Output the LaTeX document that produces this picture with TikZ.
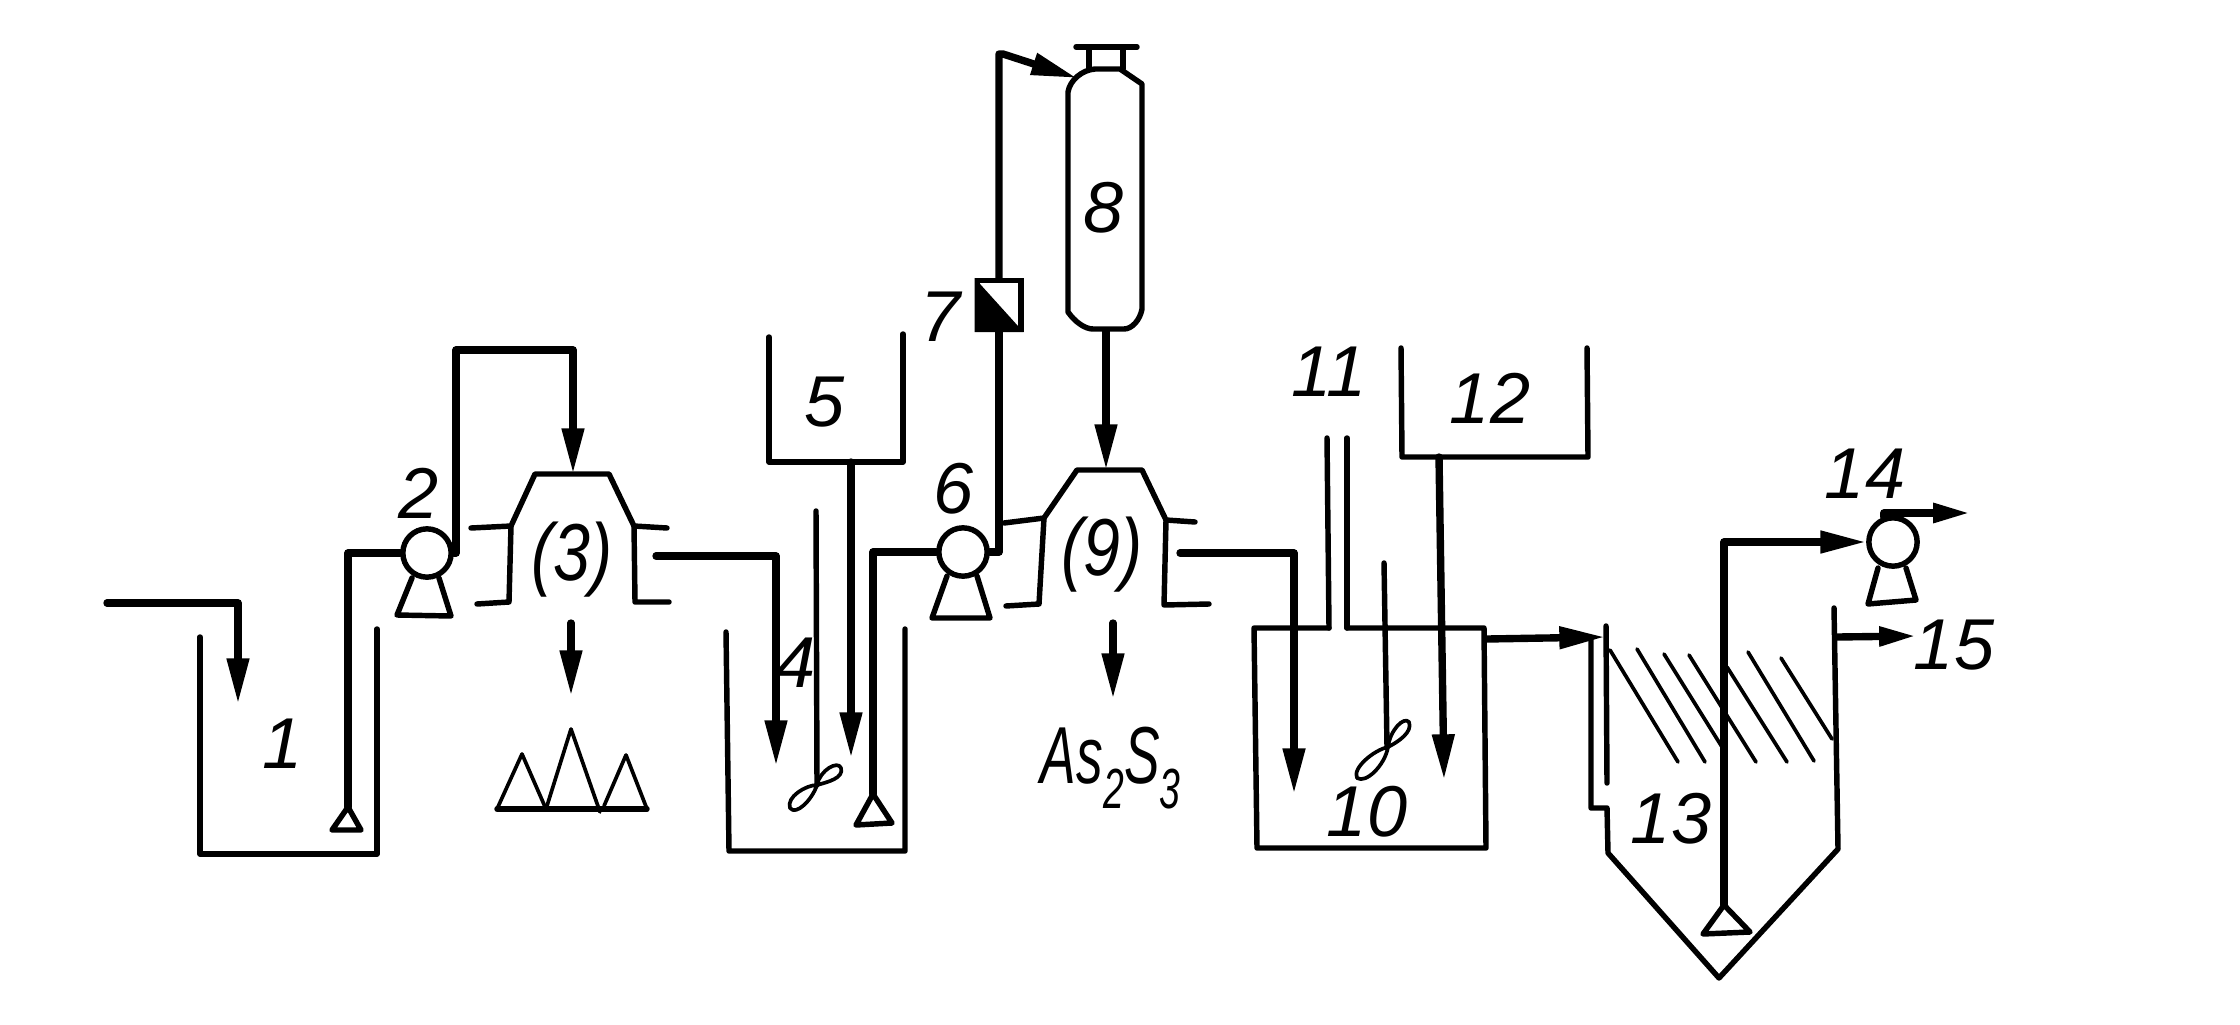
\documentclass[tikz,border=0pt]{standalone}
\usepackage{fontspec}
\setmainfont{Liberation Sans}
\usetikzlibrary{arrows.meta}
\tikzset{
  wall/.style={line width=3.1pt,line cap=round,line join=round},
  thinwall/.style={line width=2.1pt,line cap=round,line join=round},
  pipe/.style={line width=4.2pt,line cap=round,line join=round},
  flow/.style={pipe,-{Stealth[length=26pt,width=12pt,inset=0pt]}},
  shortflow/.style={pipe,-{Stealth[length=21pt,width=10.5pt,inset=0pt]}},
  pump/.style={circle,draw,line width=3.1pt,minimum size=27.5pt,fill=white},
  lab/.style={font=\itshape\fontsize{41}{41}\selectfont},
  biglab/.style={font=\itshape\fontsize{46}{46}\selectfont,xscale=0.82},
}
\begin{document}
\begin{tikzpicture}[x=0.02cm,y=0.02cm]
\tikzstyle{every node}+=[inner sep=0pt]
\useasboundingbox (0,0) rectangle (2240,-1024);
% tank 1
\draw [wall] (200,-637) -- (200,-854) -- (377,-854) -- (377,-629);
\node [lab] (lab1) at (283,-744) {1};
\coordinate (feed) at (107,-603);
\coordinate (feedend) at (238,-704);
\draw [flow] (feed) -| (feedend);
% pump 2
\node [pump] (pump2) at (427,-553) {};
\node [lab] (lab2) at (419,-493) {2};
\draw [wall] (412,-578) -- (397,-615) -- (451,-616) -- (439,-578);
\coordinate (foot1) at (348,-807);
\draw [pipe] (pump2.west) -| (foot1);
\draw [wall] (foot1) -- (332,-830) -- (361,-830) -- cycle;
\coordinate (turn2) at (456,-350);
\coordinate (cyc3in) at (573,-474);
\draw [flow] (pump2.east) -| (turn2) -| (cyc3in);
% separator 3
\draw [wall] (471,-528) -- (511,-526) -- (535,-474) -- (609,-474) -- (634,-526) -- (667,-528);
\draw [wall] (511,-526) -- (509,-602) -- (477,-604);
\draw [wall] (634,-526) -- (635,-602) -- (669,-602);
\node [biglab] (lab3) at (572,-560) {(3)};
\coordinate (drop3a) at (571,-623);
\coordinate (drop3b) at (571,-696);
\draw [flow] (drop3a) -- (drop3b);
\draw [thinwall] (497,-809) -- (522,-754) -- (546,-809);
\draw [thinwall] (546,-809) -- (571,-729) -- (600,-812);
\draw [thinwall] (604,-806) -- (626,-755) -- (647,-809);
\draw [wall] (497,-809) -- (647,-809);
% tank 4
\draw [wall] (726,-632) -- (729,-851) -- (905,-851) -- (905,-629);
\node [lab] (lab4) at (796,-663) {4};
\coordinate (cyc3out) at (656,-556);
\coordinate (tank4in) at (776,-766);
\draw [flow] (cyc3out) -| (tank4in);
\draw [wall] (816,-511) -- (817,-785);
\draw [thinwall] (817,-785) .. controls (820,-770) and (838,-760) .. (841,-768) .. controls (844,-778) and (828,-782) .. (817,-785);
\draw [thinwall] (817,-785) .. controls (806,-785) and (786,-797) .. (790,-808) .. controls (796,-816) and (812,-800) .. (817,-785);
% tank 5
\draw [wall] (769,-337) -- (769,-462) -- (903,-462) -- (903,-334);
\node [lab] (lab5) at (825,-402) {5};
\coordinate (tank5out) at (851,-462);
\coordinate (tank5in) at (851,-758);
\draw [flow] (tank5out) -- (tank5in);
% pump 6
\node [pump] (pump6) at (963,-552) {};
\node [lab] (lab6) at (954,-489) {6};
\draw [wall] (947,-576) -- (932,-618) -- (990,-618) -- (977,-576);
\coordinate (foot4) at (873,-794);
\draw [pipe] (pump6.west) -| (foot4);
\draw [wall] (foot4) -- (856,-825) -- (892,-823) -- cycle;
% valve 7
\node [draw,line width=2.9pt,minimum width=25pt,minimum height=28pt,fill=white] (valve7) at (999,-305) {};
\fill (valve7.north west) -- (valve7.south east) -- (valve7.south west) -- cycle;
\node [lab] (lab7) at (941,-317) {7};
\draw [pipe] (pump6.east) -| (valve7.south);
\coordinate (turn7) at (1003,-54);
\coordinate (tank8in) at (1077,-78);
\draw [flow] (valve7.north) |- (turn7) -- (tank8in);
% tank 8
\draw [wall] (1068,-92) .. controls (1070,-80) and (1082,-70) .. (1095,-69) -- (1120,-69) -- (1142,-84) -- (1142,-309) .. controls (1140,-320) and (1132,-329) .. (1124,-329) -- (1093,-329) .. controls (1085,-329) and (1075,-322) .. (1068,-312) -- cycle;
\draw [wall] (1076,-47) -- (1137,-47);
\draw [wall] (1089,-47) -- (1089,-69);
\draw [wall] (1123,-47) -- (1123,-69);
\node [lab] (lab8) at (1104,-208) {8};
\coordinate (tank8out) at (1106,-331);
\coordinate (cyc9in) at (1106,-470);
\draw [flow] (tank8out) -- (cyc9in);
% separator 9
\draw [wall] (1004,-523) -- (1044,-518) -- (1077,-470) -- (1142,-470) -- (1166,-520) -- (1195,-522);
\draw [wall] (1044,-518) -- (1039,-604) -- (1006,-606);
\draw [wall] (1166,-520) -- (1164,-605) -- (1209,-604);
\node [biglab] (lab9) at (1102,-555) {(9)};
\coordinate (drop9a) at (1113,-623);
\coordinate (drop9b) at (1113,-699);
\draw [flow] (drop9a) -- (drop9b);
\node [font=\itshape\fontsize{46}{46}\selectfont,xscale=0.66] (product) at (1111,-768) {As\textsubscript{2}S\textsubscript{3}};
% tank 10
\draw [wall] (1329,-628) -- (1254,-628) -- (1257,-848) -- (1486,-848) -- (1484,-628) -- (1347,-628);
\draw [wall] (1327,-438) -- (1329,-628);
\draw [wall] (1347,-438) -- (1347,-628);
\node [lab] (lab11) at (1329,-372) {11};
\node [lab] (lab10) at (1367,-812) {10};
\coordinate (cyc9out) at (1180,-553);
\coordinate (tank10in) at (1294,-794);
\draw [flow] (cyc9out) -| (tank10in);
\draw [wall] (1384,-563) -- (1387,-747);
\draw [thinwall] (1388,-747) .. controls (1390,-730) and (1404,-716) .. (1409,-722) .. controls (1413,-732) and (1398,-742) .. (1388,-747);
\draw [thinwall] (1388,-747) .. controls (1374,-750) and (1352,-768) .. (1357,-778) .. controls (1366,-784) and (1385,-765) .. (1388,-747);
% tank 12
\draw [wall] (1401,-348) -- (1402,-457) -- (1588,-457) -- (1587,-348);
\node [lab] (lab12) at (1490,-398) {12};
\coordinate (tank12out) at (1439,-457);
\coordinate (tank10b) at (1444,-780);
\draw [flow] (tank12out) -- (tank10b);
\coordinate (tank10out) at (1487,-639);
\coordinate (settler) at (1605,-637);
\draw [flow] (tank10out) -- (settler);
% settler 13
\draw [wall] (1606,-626) -- (1607,-783);
\draw [wall] (1591,-639) -- (1591,-808) -- (1607,-808) -- (1608,-853) -- (1719,-978) -- (1838,-849) -- (1834,-608);
\draw [thinwall] (1610,-650) -- (1678,-762);
\draw [thinwall] (1637,-649) -- (1705,-762);
\draw [thinwall] (1664,-654) -- (1722,-747);
\draw [thinwall] (1689,-655) -- (1756,-762);
\draw [thinwall] (1727,-667) -- (1787,-762);
\draw [thinwall] (1748,-652) -- (1814,-761);
\draw [thinwall] (1781,-658) -- (1832,-739);
\node [lab] (lab13) at (1671,-819) {13};
% pump 14
\node [pump] (pump14) at (1893,-542) {};
\node [lab] (lab14) at (1865,-474) {14};
\draw [wall] (1878,-568) -- (1868,-604) -- (1916,-600) -- (1906,-568);
\coordinate (foot13) at (1724,-905);
\draw [flow] (foot13) |- (pump14.west);
\draw [wall] (foot13) -- (1703,-934) -- (1750,-932) -- cycle;
\coordinate (drain14) at (1970,-513);
\draw [shortflow] (pump14.110) |- (drain14);
\coordinate (over13) at (1837,-637);
\coordinate (drain15) at (1916,-636);
\draw [shortflow] (over13) -- (drain15);
\node [lab] (lab15) at (1954,-645) {15};
\end{tikzpicture}
\end{document}
